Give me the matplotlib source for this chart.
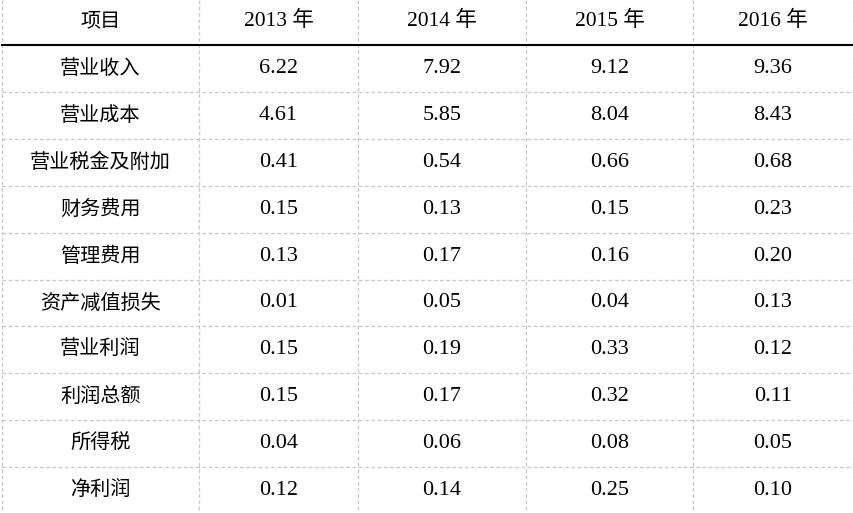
import matplotlib
matplotlib.use("Agg")
import matplotlib.pyplot as plt

header = ["项目", "2013 年", "2014 年", "2015 年", "2016 年"]
items = ["营业收入", "营业成本", "营业税金及附加", "财务费用", "管理费用",
         "资产减值损失", "营业利润", "利润总额", "所得税", "净利润"]
v2013 = ["6.22", "4.61", "0.41", "0.15", "0.13", "0.01", "0.15", "0.15", "0.04", "0.12"]
v2014 = ["7.92", "5.85", "0.54", "0.13", "0.17", "0.05", "0.19", "0.17", "0.06", "0.14"]
v2015 = ["9.12", "8.04", "0.66", "0.15", "0.16", "0.04", "0.33", "0.32", "0.08", "0.25"]
v2016 = ["9.36", "8.43", "0.68", "0.23", "0.20", "0.13", "0.12", "0.11", "0.05", "0.10"]

W, H = 854, 513
fig = plt.figure(figsize=(W/100, H/100), dpi=100)
ax = fig.add_axes([0, 0, 1, 1])
ax.set_xlim(0, W); ax.set_ylim(H, 0); ax.axis("off")

xs = [2, 199, 358, 526, 693, 853]
header_bottom = 45
pitch = 46.9
dash = dict(color="#c8c8c8", lw=0.9, ls=(0, (3, 2)))
for x in xs:
    ax.plot([x, x], [0, H], **dash)
ax.plot([xs[0], xs[-1]], [header_bottom, header_bottom], color="black", lw=1.5)
for k in range(1, len(items)):
    y = header_bottom + k*pitch
    ax.plot([xs[0], xs[-1]], [y, y], **dash)

cjk = "Noto Sans CJK SC"
serif = "Liberation Serif"

def cell(text, col, y):
    cx = (xs[col] + xs[col+1]) / 2
    if col == 0:
        ax.text(cx, y, text, ha="center", va="center", fontsize=14.5, fontfamily=cjk)
    elif "年" in text:
        ax.text(cx, y, text, ha="center", va="center", fontsize=15.5, fontfamily=[serif, cjk])
    else:
        ax.text(cx, y, text, ha="center", va="center", fontsize=16, fontfamily=serif)

for c, h in enumerate(header):
    cell(h, c, 21)
cols = [items, v2013, v2014, v2015, v2016]
for r in range(len(items)):
    y = header_bottom + (r + 0.5)*pitch
    for c, col in enumerate(cols):
        cell(col[r], c, y)

fig.savefig("out.png", dpi=100)
